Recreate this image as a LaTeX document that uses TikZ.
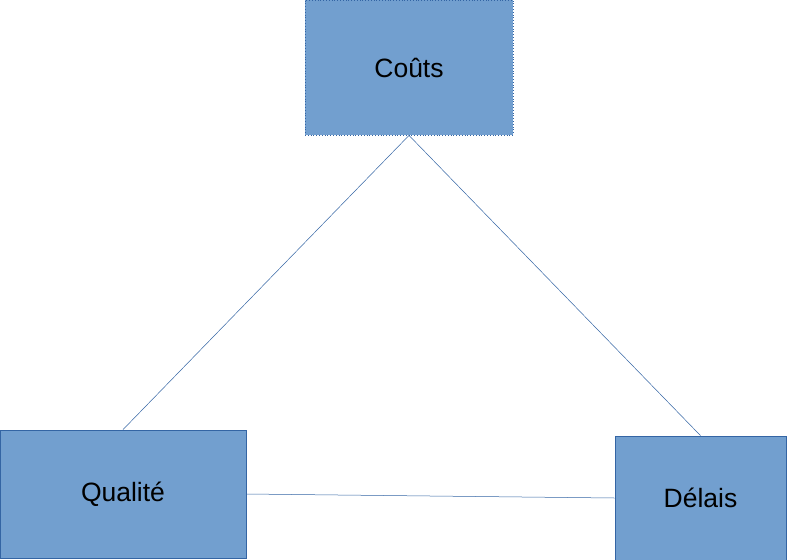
\documentclass[tikz,border=0pt]{standalone}
\usepackage{fontspec}
\setmainfont{Liberation Sans}
\definecolor{boxfill}{HTML}{729FCF}
\definecolor{boxline}{HTML}{3465A4}
\begin{document}
\begin{tikzpicture}[x=1pt,y=-1pt,
  blk/.style={draw=boxline,fill=boxfill,line width=0.8pt,inner sep=0pt,font=\fontsize{26.5}{32}\selectfont,text=black},
  link/.style={draw=boxline,line width=0.5pt}]
\useasboundingbox (0,0) rectangle (794,559);
\node[blk,dotted,minimum width=208pt,minimum height=135pt] (c) at (409,67.5) {Coûts};
\node[blk,minimum width=246pt,minimum height=128pt] (q) at (123,494) {Qualité};
\node[blk,minimum width=171pt,minimum height=124pt] (d) at (700.5,498) {Délais};
\draw[link] (c.south) -- (q.north);
\draw[link] (c.south) -- (d.north);
\draw[link] (q.east) -- (d.west);
\end{tikzpicture}
\end{document}
